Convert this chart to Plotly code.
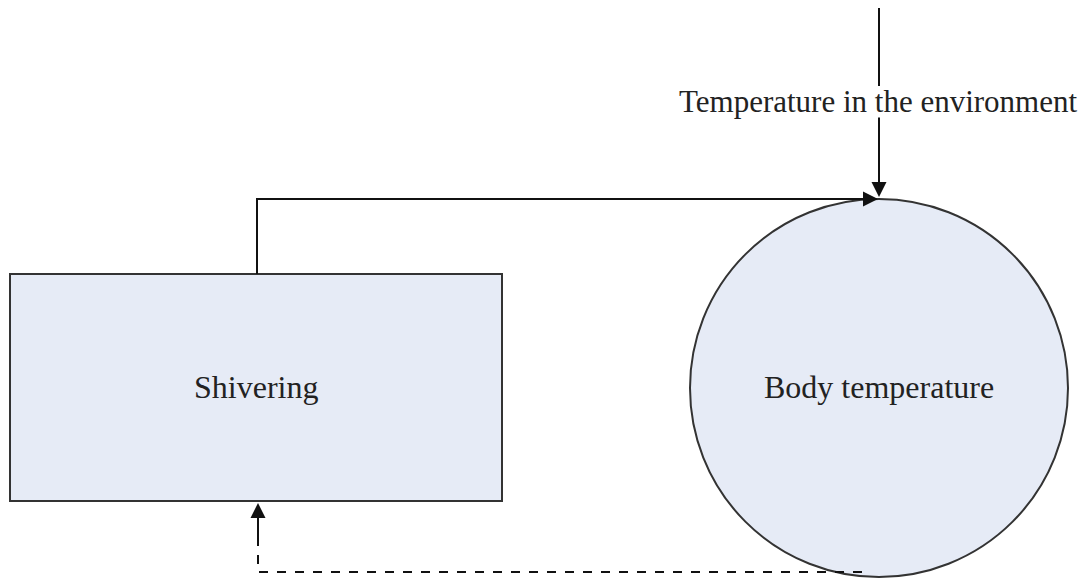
import plotly.graph_objects as go

# Diagram content
node_labels = ["Shivering", "Body temperature"]
input_label = "Temperature in the environment"

W, H = 1090, 579
OFF = 8  # page body margin compensation
FILL = "#e6ebf6"
EDGE = "#333333"
FONT = dict(family="Liberation Serif, Times New Roman, serif", size=32, color="#222222")
FONT_IN = dict(family="Liberation Serif, Times New Roman, serif", size=31, color="#222222")

# geometry (page pixel space, y downward)
rect = dict(x0=10, y0=274, x1=502, y1=501)
circ = dict(cx=879, cy=388, r=189)

fig = go.Figure()
shapes = []
shapes.append(dict(type="rect", xref="x", yref="y", x0=rect["x0"], x1=rect["x1"],
                   y0=rect["y0"], y1=rect["y1"], fillcolor=FILL,
                   line=dict(color=EDGE, width=2), layer="below"))
shapes.append(dict(type="circle", xref="x", yref="y",
                   x0=circ["cx"] - circ["r"], x1=circ["cx"] + circ["r"],
                   y0=circ["cy"] - circ["r"], y1=circ["cy"] + circ["r"],
                   fillcolor=FILL, line=dict(color=EDGE, width=2), layer="below"))
# top vertical line above text
shapes.append(dict(type="line", xref="x", yref="y", x0=879, x1=879, y0=OFF, y1=86,
                   line=dict(color="#111111", width=2)))
# solid feedback path: up from rect, across to circle top
shapes.append(dict(type="path", xref="x", yref="y",
                   path="M 257 274 L 257 199 L 862 199",
                   line=dict(color="#111111", width=2)))
# dashed path: from circle bottom left, to rect bottom
shapes.append(dict(type="path", xref="x", yref="y",
                   path="M 862 572 L 258 572 L 258 518",
                   line=dict(color="#111111", width=2, dash="dash")))

annotations = []
def arrow(x, y, ax, ay):
    return dict(x=x, y=y, ax=ax, ay=ay, xref="x", yref="y", axref="x", ayref="y",
                showarrow=True, arrowhead=2, arrowsize=1.5, arrowwidth=2,
                arrowcolor="#111111", text="")

annotations.append(arrow(879, 197, 879, 116))
annotations.append(arrow(878, 199, 840, 199))
annotations.append(arrow(258, 503, 258, 540))

annotations.append(dict(x=(rect["x0"] + rect["x1"]) / 2, y=387, xref="x", yref="y",
                        text=node_labels[0], showarrow=False, font=FONT))
annotations.append(dict(x=circ["cx"], y=387, xref="x", yref="y",
                        text=node_labels[1], showarrow=False, font=FONT))
annotations.append(dict(x=878, y=101, xref="x", yref="y", text=input_label,
                        showarrow=False, font=FONT_IN, xanchor="center"))

fig.update_layout(
    width=W, height=H,
    margin=dict(l=0, r=0, t=0, b=0),
    paper_bgcolor="white", plot_bgcolor="white",
    xaxis=dict(range=[OFF, W + OFF], visible=False, fixedrange=True),
    yaxis=dict(range=[H + OFF, OFF], visible=False, fixedrange=True),
    shapes=shapes, annotations=annotations, showlegend=False,
)

fig.write_html("out.html")
